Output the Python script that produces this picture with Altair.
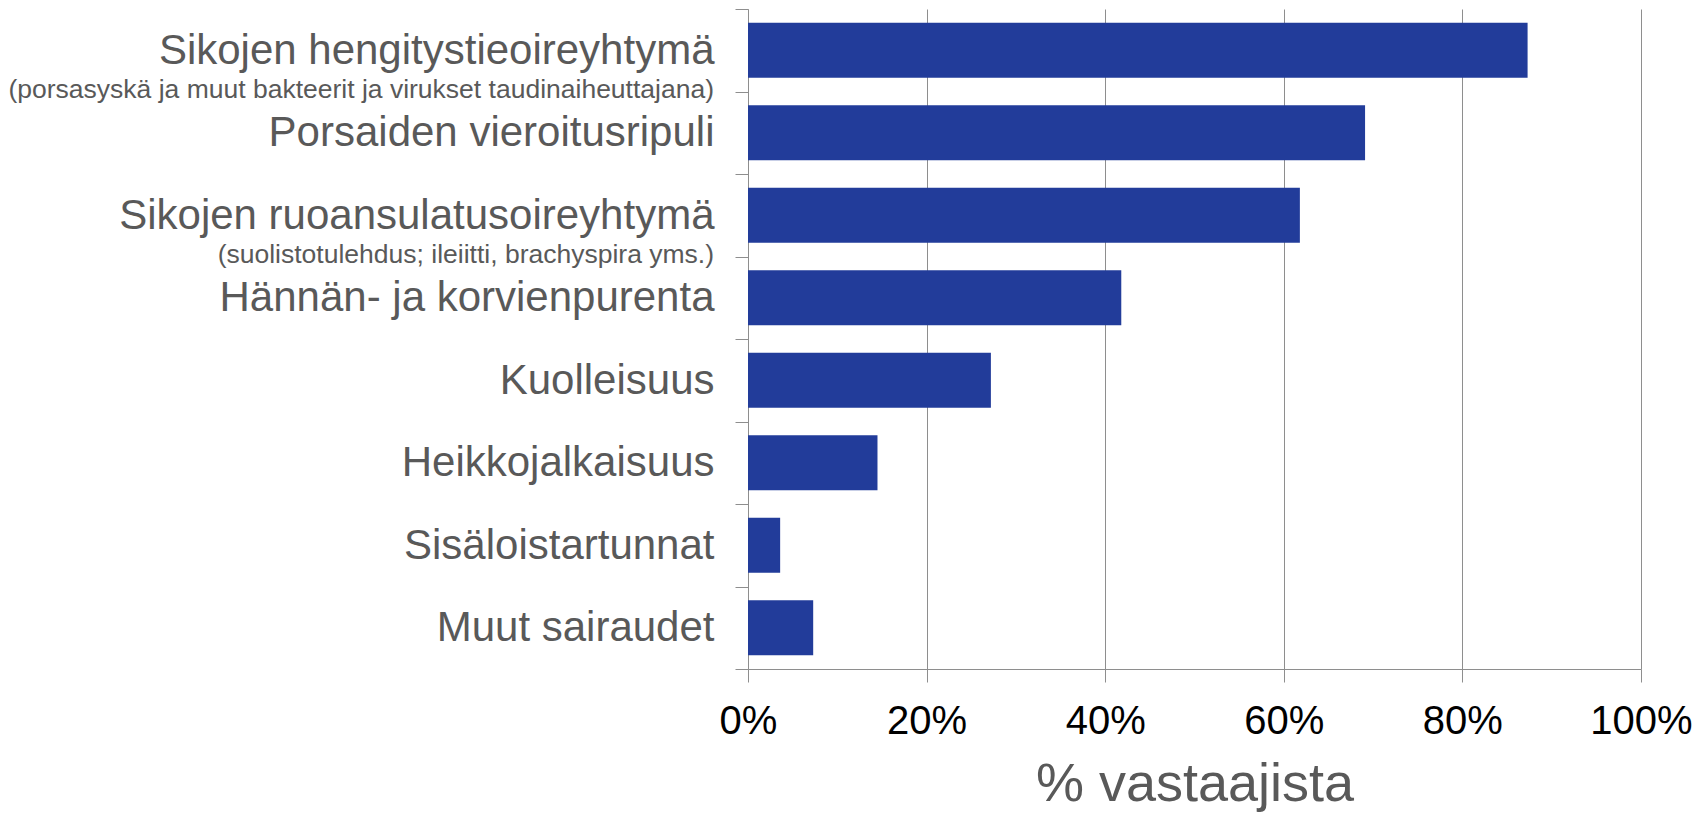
import altair as alt
import pandas as pd

categories = [
    "Sikojen hengitystieoireyhtymä",
    "Porsaiden vieroitusripuli",
    "Sikojen ruoansulatusoireyhtymä",
    "Hännän- ja korvienpurenta",
    "Kuolleisuus",
    "Heikkojalkaisuus",
    "Sisäloistartunnat",
    "Muut sairaudet",
]
subtitles = [
    "(porsasyskä ja muut bakteerit ja virukset taudinaiheuttajana)",
    "",
    "(suolistotulehdus; ileiitti, brachyspira yms.)",
    "",
    "",
    "",
    "",
    "",
]
values = [0.873, 0.691, 0.618, 0.418, 0.272, 0.145, 0.036, 0.073]
x_ticks = [0, 0.2, 0.4, 0.6, 0.8, 1.0]
x_title = "% vastaajista"

df = pd.DataFrame({"cat": categories, "sub": subtitles, "val": values})
sub_df = df[df["sub"] != ""]

FONT = "Liberation Sans"
GRAY = "#595959"
LINE = "#8e8e8e"

y_enc = alt.Y(
    "cat:N",
    sort=categories,
    scale=alt.Scale(paddingInner=0, paddingOuter=0),
    axis=alt.Axis(
        title=None,
        tickBand="extent",
        tickSize=13,
        tickColor=LINE,
        domainColor=LINE,
        labelFontSize=42,
        labelFont=FONT,
        labelColor=GRAY,
        labelPadding=21,
        labelLimit=0,
        grid=False,
    ),
)

bars = alt.Chart(df).mark_bar(size=55, color="#223C9A").encode(
    y=y_enc,
    x=alt.X(
        "val:Q",
        scale=alt.Scale(domain=[0, 1], nice=False),
        axis=alt.Axis(
            values=x_ticks,
            format=".0%",
            title=x_title,
            titleFont=FONT,
            titleFontSize=54,
            titleFontWeight="normal",
            titleColor=GRAY,
            titlePadding=16,
            labelFont=FONT,
            labelFontSize=40,
            labelColor="black",
            labelPadding=19,
            labelFlush=False,
            labelOverlap=False,
            tickSize=13,
            tickColor=LINE,
            domainColor=LINE,
            grid=True,
            gridColor=LINE,
            gridWidth=1,
        ),
    ),
)

subs = alt.Chart(sub_df).mark_text(
    align="right", baseline="middle", dy=40, fontSize=26.5, font=FONT, color=GRAY
).encode(
    y=alt.Y("cat:N", sort=categories),
    x=alt.value(-34),
    text="sub:N",
)

chart = (
    alt.layer(bars, subs)
    .properties(
        width=893,
        height=660,
        autosize=alt.AutoSizeParams(type="none"),
        padding={"left": 740, "top": 1, "right": 55, "bottom": 144},
    )
    .configure_view(stroke=None)
)

chart.save("out.html", embed_options={"renderer": "svg", "actions": False})
